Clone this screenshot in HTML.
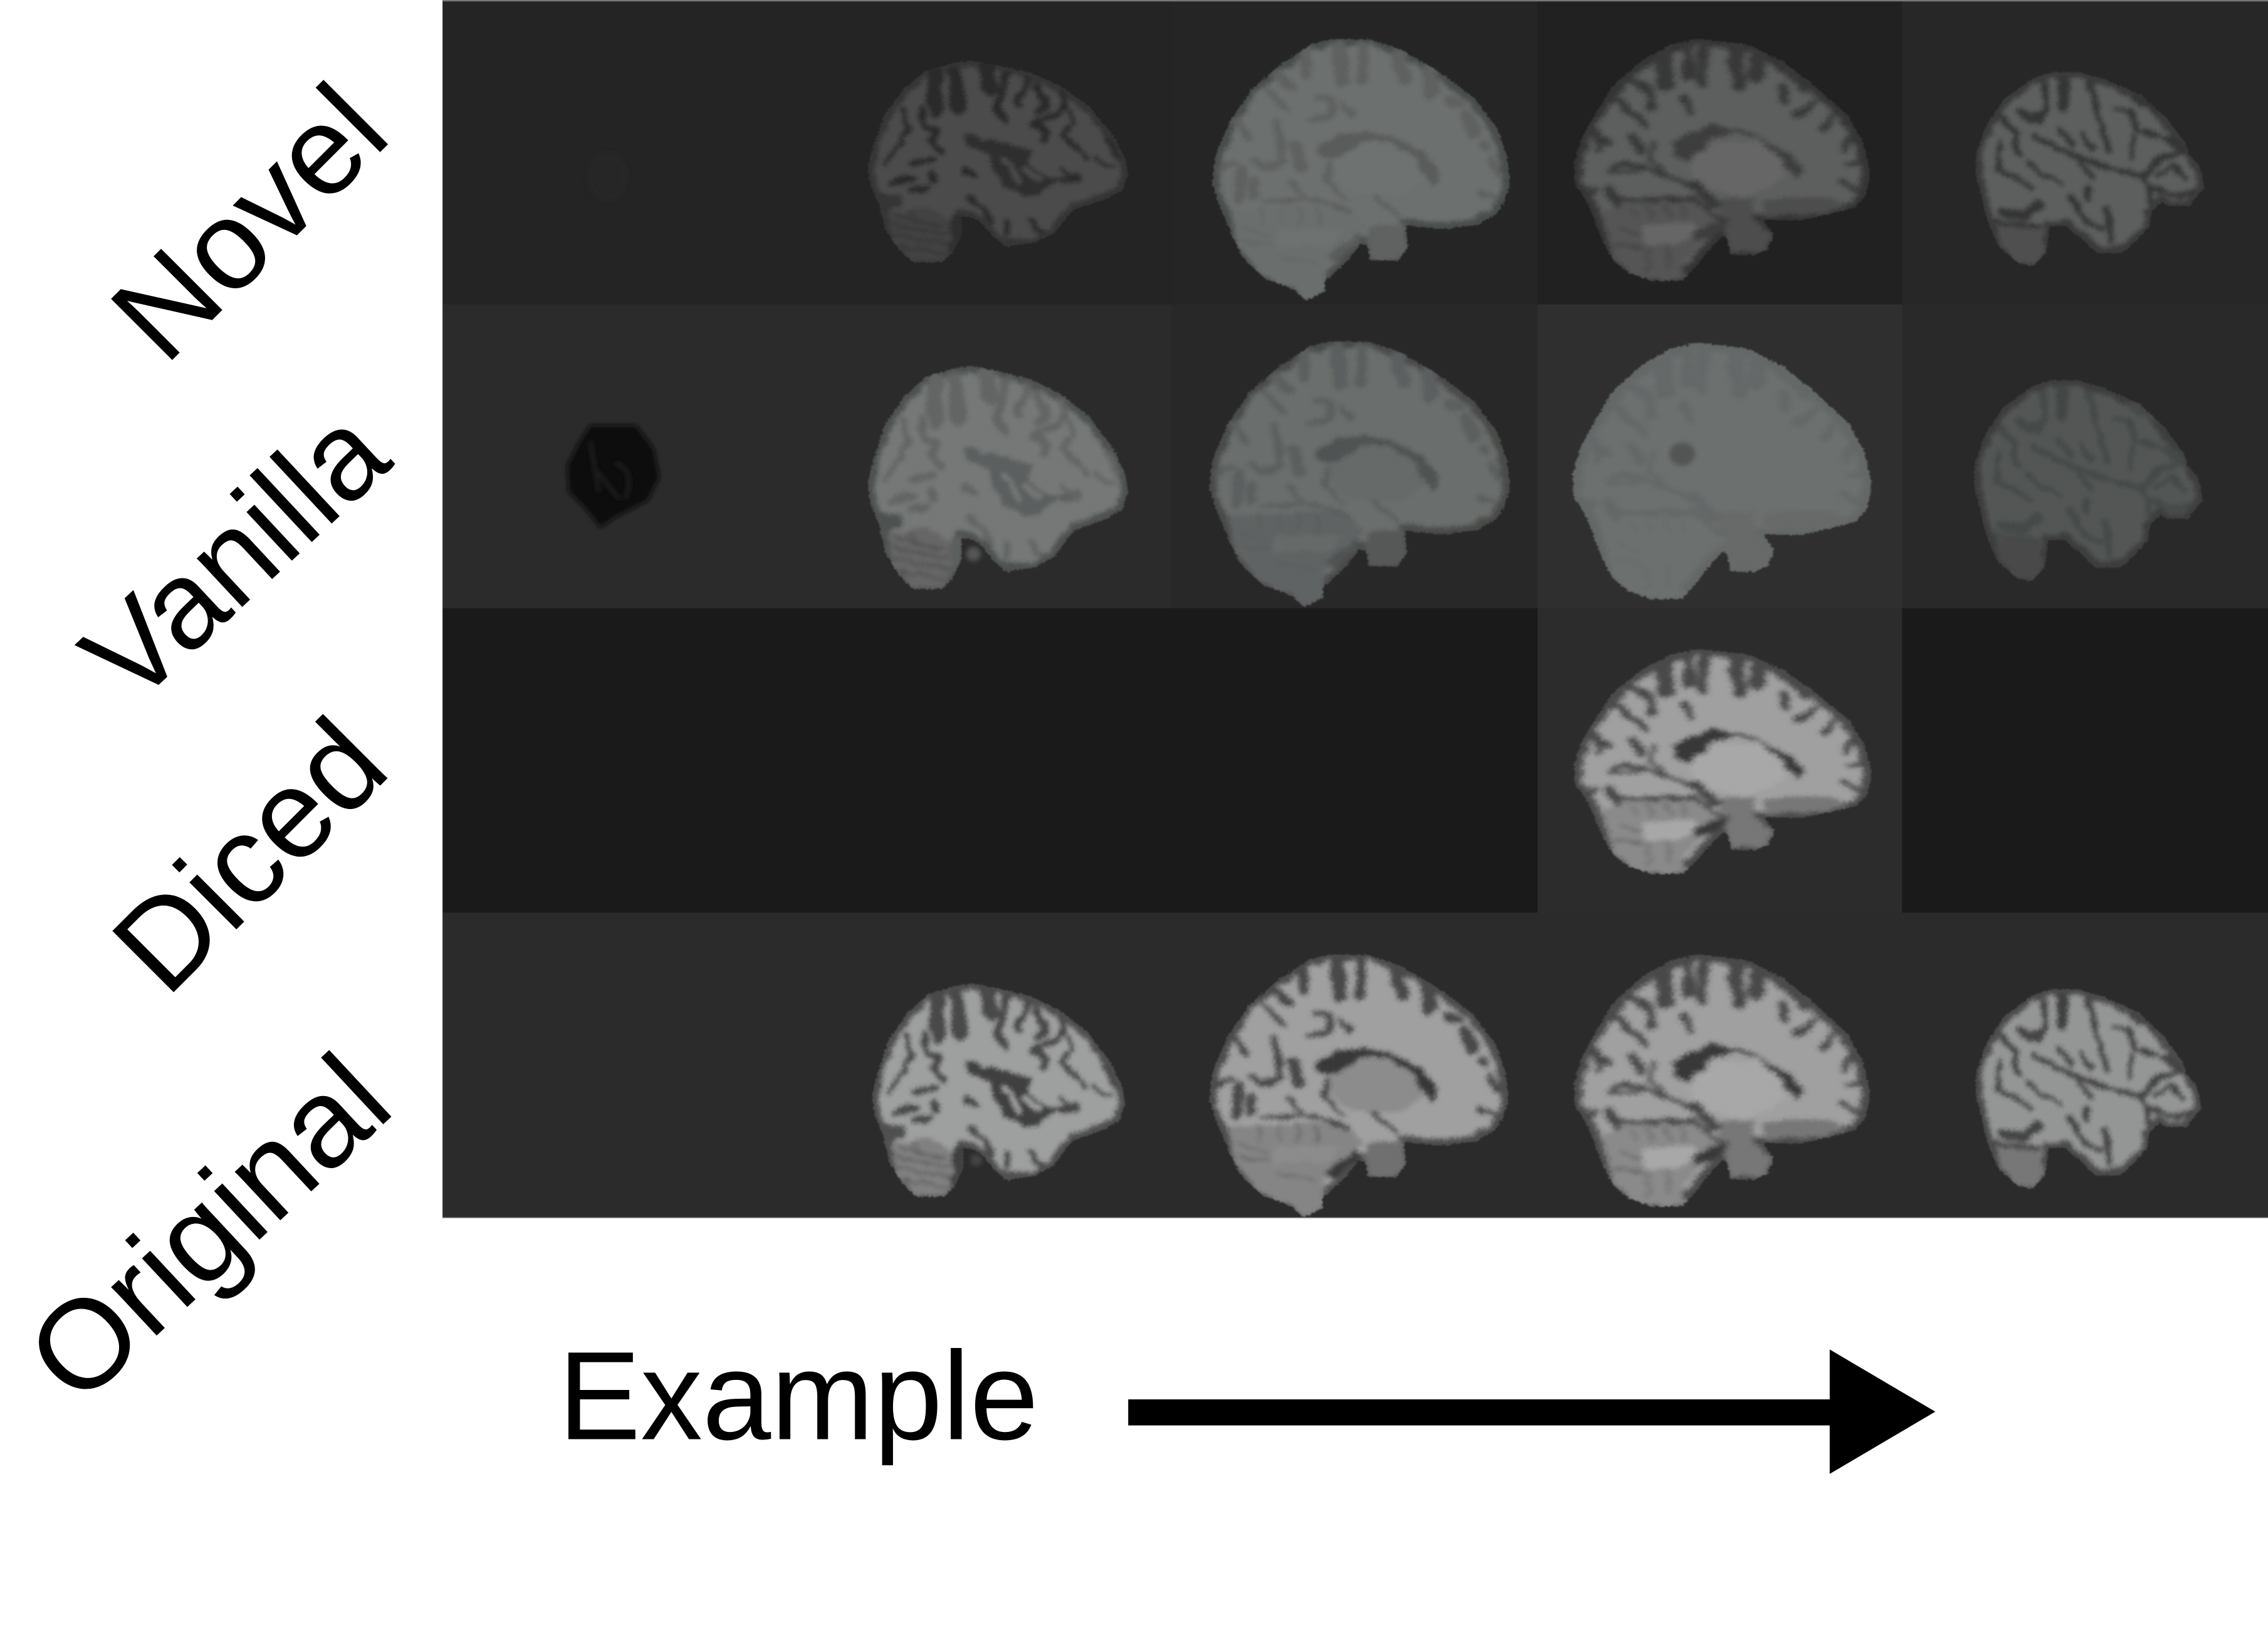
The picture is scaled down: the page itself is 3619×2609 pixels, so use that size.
<!DOCTYPE html>
<html lang="en">
<head>
<meta charset="utf-8">
<title>Brain MRI generation examples</title>
<style>
html,body{margin:0;padding:0;background:#fff;width:3619px;height:2609px;overflow:hidden}
svg{display:block}
.gm{fill:var(--gm)}
.wm{fill:var(--wm);stroke:var(--gm);stroke-width:64}
.s{fill:none;stroke:var(--s);stroke-linecap:round;stroke-linejoin:round}
.d{fill:var(--d)}
.ds{fill:none;stroke:var(--d);stroke-linecap:round;stroke-linejoin:round}
.th{fill:var(--th)}
.th2{fill:var(--th2)}
.cb{fill:var(--cb)}
.cbl{fill:none;stroke:var(--cbl);stroke-width:13}
.lab{font-family:"Liberation Sans",sans-serif;font-size:87px;fill:#000}
</style>
</head>
<body>
<svg xmlns="http://www.w3.org/2000/svg" width="3619" height="2609" viewBox="0 0 1568 1130.4">
<defs>
<filter id="soft" x="-5%" y="-5%" width="110%" height="110%">
<feTurbulence type="fractalNoise" baseFrequency="0.018" numOctaves="2" seed="4" result="n"/>
<feDisplacementMap in="SourceGraphic" in2="n" scale="42" xChannelSelector="R" yChannelSelector="G" result="w"/>
<feGaussianBlur in="w" stdDeviation="10"/>
</filter>
<filter id="edge" x="-5%" y="-5%" width="110%" height="110%">
<feTurbulence type="fractalNoise" baseFrequency="0.09" numOctaves="1" seed="9" result="n"/>
<feDisplacementMap in="SourceGraphic" in2="n" scale="22" xChannelSelector="R" yChannelSelector="G" result="w"/>
<feGaussianBlur in="w" stdDeviation="3"/>
</filter>
<filter id="spot" x="-50%" y="-50%" width="200%" height="200%"><feGaussianBlur stdDeviation="1.6"/></filter>
<clipPath id="c-lat"><polygon points="570,55 700,80 860,120 1000,190 1130,290 1250,450 1300,560 1318,640 1290,730 1220,770 1060,830 1020,880 970,950 880,1000 740,1025 680,980 620,900 570,870 525,865 525,960 480,1060 430,1105 290,1105 220,1030 160,930 130,800 90,700 78,600 110,480 160,330 250,200 350,110 470,70"/></clipPath>
<clipPath id="c-lat2"><polygon points="460,115 590,115 720,155 880,225 1000,340 1090,460 1110,520 1160,580 1180,680 1110,770 1010,770 980,750 930,800 920,870 860,940 790,1000 670,1000 600,930 530,870 450,870 430,1000 370,1065 300,1050 210,970 160,860 130,740 100,620 100,520 150,370 240,240 370,145"/></clipPath>
<clipPath id="c-med"><polygon points="700,245 870,270 1000,350 1120,470 1230,600 1290,730 1315,880 1300,980 1260,1040 1130,1080 1060,1100 930,1095 965,1160 950,1230 900,1265 810,1260 800,1180 780,1175 740,1230 700,1300 640,1385 530,1385 450,1350 390,1290 350,1190 325,1100 290,1000 250,920 250,830 280,700 330,590 400,450 500,340 600,270"/></clipPath>
<clipPath id="c-med2"><polygon points="580,125 740,125 880,180 1040,290 1180,410 1280,560 1320,700 1330,830 1300,920 1270,970 1190,1020 1040,1040 890,1020 900,1130 860,1190 740,1190 730,1120 700,1110 640,1200 550,1290 550,1340 470,1385 420,1330 300,1280 200,1170 140,1020 90,880 75,820 90,680 150,520 240,370 360,250 490,150"/></clipPath>

<g id="lat" filter="url(#edge)"><g clip-path="url(#c-lat)"><g filter="url(#soft)">
<rect class="gm" x="0" y="0" width="1400" height="1200"/>
<polygon class="wm" points="570,55 700,80 860,120 1000,190 1130,290 1250,450 1300,560 1318,640 1290,730 1220,770 1060,830 1020,880 970,950 880,1000 740,1025 680,980 620,900 570,870 525,865 525,960 480,1060 430,1105 290,1105 220,1030 160,930 130,800 90,700 78,600 110,480 160,330 250,200 350,110 470,70"/>
<polygon class="cb" points="170,850 330,820 440,850 490,900 500,1000 430,1100 290,1100 200,1000"/>
<g class="cbl"><path d="M210,860 L440,920M190,910 L460,960M200,960 L470,1010M230,1020 L450,1060M280,840 L330,900"/></g>
<polygon class="d" points="480,860 530,865 525,960 480,1060 470,1000"/>
<polygon class="gm" points="130,750 240,750 240,810 170,850 150,830"/>
<polygon class="d" points="535,430 660,470 750,480 800,510 860,520 850,590 900,640 960,670 1080,640 1100,660 1060,690 960,690 900,750 830,770 720,710 670,620 650,540 550,500"/>
<g class="s"><path style="stroke:var(--wm)" stroke-width="30" d="M730,570 L800,680M830,620 L890,670"/></g>
<g class="s">
<path stroke-width="75" d="M400,120 L400,310M490,120 L510,300M640,90 L660,200"/>
<path stroke-width="42" d="M740,130 L690,300 L730,360M840,150 L790,280M880,190 L930,290 L880,320"/>
<path stroke-width="36" d="M1000,230 L1020,300 L960,340 L870,380 L930,430 L920,470M330,300 L350,400 L410,420 L370,470 L430,530"/>
<path stroke-width="28" d="M1040,330 L1060,380 L1000,440 L1120,560M260,430 L200,540 L160,590M250,300 L270,420M1160,560 L1210,600 L1250,600M1220,470 L1270,560M1000,620 L1080,680"/>
<path stroke-width="34" d="M290,590 L390,570M190,690 L250,670 L300,670M380,640 L390,680M280,730 L360,720M540,620 L590,660"/>
<path stroke-width="28" d="M560,770 L640,830 L670,900M740,890 L740,960M850,880 L900,950"/>
</g></g></g></g>

<g id="lat2" filter="url(#edge)"><g clip-path="url(#c-lat2)"><g filter="url(#soft)">
<rect class="gm" x="0" y="0" width="1400" height="1200"/>
<polygon class="wm" points="460,115 590,115 720,155 880,225 1000,340 1090,460 1110,520 1160,580 1180,680 1110,770 1010,770 980,750 930,800 920,870 860,940 790,1000 670,1000 600,930 530,870 450,870 430,1000 370,1065 300,1050 210,970 160,860 130,740 100,620 100,520 150,370 240,240 370,145"/>
<polygon class="cb" points="200,870 400,870 430,990 370,1060 300,1050 220,970"/>
<polygon class="d" points="480,130 550,130 540,230 520,320 490,300"/>
<g class="s">
<path stroke-width="36" d="M640,170 L680,330 L700,410M430,180 L430,300 L400,350M230,340 L290,420 L300,520"/>
<path stroke-width="34" d="M380,430 L490,490 L600,540 L760,590 L900,620 L970,540 L1080,500"/>
<path stroke-width="28" d="M300,300 L360,350 L400,320M760,300 L820,300 L870,400 L1000,440M850,430 L830,530M210,450 L210,600M200,590 L290,630 L370,680M350,560 L420,620 L510,660M590,570 L650,620M540,720 L620,840 L700,880M720,780 L740,940M900,640 L930,750M930,680 L1060,720 L1130,700M960,620 L1040,570 L1090,640M200,850 L400,870"/>
<path stroke-width="46" d="M630,690 L630,730M220,800 L330,820 L400,760M850,240 L940,290M1000,440 L1060,470"/>
<path stroke-width="30" d="M500,400 L560,470M600,420 L650,490M710,430 L730,510"/>
</g></g></g></g>

<g id="med" filter="url(#edge)"><g clip-path="url(#c-med)"><g filter="url(#soft)">
<rect class="gm" x="0" y="0" width="1500" height="1500"/>
<polygon class="wm" points="700,245 870,270 1000,350 1120,470 1230,600 1290,730 1315,880 1300,980 1260,1040 1130,1080 1060,1100 930,1095 965,1160 950,1230 900,1265 810,1260 800,1180 780,1175 740,1230 700,1300 640,1385 530,1385 450,1350 390,1290 350,1190 325,1100 290,1000 250,920 250,830 280,700 330,590 400,450 500,340 600,270"/>
<ellipse class="th" cx="840" cy="850" rx="172" ry="125"/>
<polygon class="th2" points="770,1000 900,990 900,1100 960,1170 930,1250 810,1250 790,1150 770,1060"/>
<polygon class="th2" points="920,1010 1080,980 1200,1000 1220,1040 1130,1070 940,1085"/>
<polygon class="cb" points="350,1060 440,1000 660,1000 790,1100 700,1200 650,1290 640,1385 530,1385 450,1350 390,1290"/>
<polygon class="th" points="490,1120 680,1110 690,1160 620,1210 500,1210"/>
<g class="cbl"><path d="M460,1030 L470,1100M520,1020 L530,1090M580,1020 L590,1090M640,1020 L640,1090M400,1210 L500,1230M520,1230 L510,1340M580,1230 L590,1320M420,1130 L490,1170"/></g>
<polygon class="d" points="595,740 650,690 740,650 850,670 950,730 1040,800 1075,860 1050,910 1020,880 990,810 920,720 830,690 740,700 720,770 660,825 610,790"/>
<path class="ds" stroke-width="50" d="M700,1170 L770,1130"/>
<g class="s">
<path stroke-width="62" d="M570,290 L580,460M820,270 L845,460M910,290 L905,420"/>
<path stroke-width="42" d="M660,270 L665,420M720,270 L705,450M450,440 L520,480 L530,560"/>
<path stroke-width="34" d="M400,520 L510,650M1020,400 L1080,490M1110,540 L1060,600M1180,610 L1150,670M1240,700 L1220,770M330,680 L340,770M300,680 L380,740"/>
<path stroke-width="36" d="M1000,470 L1010,540M650,520 L670,590M460,710 L490,770"/>
<path stroke-width="22" d="M380,870 L520,860 L610,910 L680,950M390,850 L430,830 L500,840M540,730 L530,820 L590,890M420,1000 L680,1000 L790,1100M320,950 L290,990M1230,830 L1280,830M1210,910 L1270,960"/>
<path stroke-width="44" d="M680,930 L750,1020M370,950 L400,1010"/>
</g></g></g></g>

<g id="med2" filter="url(#edge)"><g clip-path="url(#c-med2)"><g filter="url(#soft)">
<rect class="gm" x="0" y="0" width="1500" height="1500"/>
<polygon class="wm" points="580,125 740,125 880,180 1040,290 1180,410 1280,560 1320,700 1330,830 1300,920 1270,970 1190,1020 1040,1040 890,1020 900,1130 860,1190 740,1190 730,1120 700,1110 640,1200 550,1290 550,1340 470,1385 420,1330 300,1280 200,1170 140,1020 90,880 75,820 90,680 150,520 240,370 360,250 490,150"/>
<ellipse class="th" cx="780" cy="750" rx="200" ry="135"/>
<polygon class="th2" points="740,1020 890,1020 900,1130 860,1190 740,1190 730,1120"/>
<polygon class="cb" points="150,950 620,930 720,1020 640,1120 560,1200 550,1340 470,1385 420,1330 280,1260 190,1130"/>
<polygon class="th" points="350,1040 630,1040 560,1120 340,1120"/>
<g class="cbl"><path d="M280,940 L290,1020M360,930 L370,1020M440,930 L450,1020M520,930 L530,1020M200,1030 L330,1080M210,1100 L330,1110M350,1180 L520,1200"/></g>
<polygon class="d" points="520,640 600,590 730,560 840,590 950,660 1020,730 1030,790 1000,840 975,790 930,700 830,620 710,620 610,690 570,715 530,680"/>
<polygon class="d" points="560,1170 690,1060 710,1100 590,1200"/>
<g class="s">
<path stroke-width="62" d="M615,160 L620,330M860,190 L880,320M990,260 L1000,380M1150,500 L1180,580"/>
<path stroke-width="46" d="M470,170 L470,300M710,160 L710,320M340,300 L410,350M200,750 L190,900M250,810 L250,880M1120,440 L1080,420"/>
<path stroke-width="32" d="M310,370 L380,460M520,400 L570,420 L590,490 L490,520M630,440 L660,490M340,520 L370,640 L370,720 L290,750 L250,700M1210,870 L1270,890M1220,630 L1240,650M1250,700 L1280,770M180,520 L230,600M110,750 L170,720"/>
<path stroke-width="50" d="M420,640 L450,740"/>
<path stroke-width="22" d="M570,730 L560,800 L640,900M300,900 L520,900 L660,960M400,810 L470,880M760,880 L850,960"/>
</g></g></g></g>
</defs>

<g>
<rect x="306" y="0" width="1262" height="842" fill="#2a2a2a"/>
<g>
<rect x="306" y="0" width="504" height="210.5" fill="#242424"/>
<rect x="810" y="0" width="253" height="210.5" fill="#252525"/>
<rect x="1063" y="0" width="252" height="210.5" fill="#212121"/>
<rect x="1315" y="0" width="253" height="210.5" fill="#272727"/>
</g>
<g>
<rect x="306" y="210.5" width="504" height="210" fill="#2b2b2b"/>
<rect x="810" y="210.5" width="253" height="210" fill="#282828"/>
<rect x="1063" y="210.5" width="252" height="210" fill="#2f2f2f"/>
<rect x="1315" y="210.5" width="253" height="210" fill="#292929"/>
</g>
<g>
<rect x="306" y="420.5" width="757" height="210.5" fill="#1a1a1a"/>
<rect x="1063" y="420.5" width="252" height="210.5" fill="#2c2c2c"/>
<rect x="1315" y="420.5" width="253" height="210.5" fill="#1a1a1a"/>
</g>
<rect x="306" y="631" width="1262" height="211" fill="#2b2b2b"/>
<rect x="306" y="0" width="1262" height="1" fill="#777"/>
<rect x="306" y="841.5" width="1262" height="0.7" fill="#777"/>
</g>

<g>
<ellipse cx="420" cy="122" rx="14" ry="17" fill="#272727" filter="url(#spot)"/>
<g transform="translate(600,42) scale(.1452,.1327) translate(-78,-55)" style="--gm:#343434;--wm:#4c4c4c;--s:#2c2c2c;--d:#2e2e2e;--th:#4a4a4a;--th2:#444;--cb:#434343;--cbl:#363636"><use href="#lat"/></g>
<g transform="translate(838,27) scale(.1641,.1437) translate(-75,-125)" style="--gm:#4a4d4c;--wm:#6c706e;--s:#5e6160;--d:#5a5c5b;--th:#6e7270;--th2:#5f6261;--cb:#6b6e6d;--cbl:#626564"><use href="#med2"/></g>
<g transform="translate(1088,27) scale(.1921,.1467) translate(-248,-245)" style="--gm:#363636;--wm:#5c5e5d;--s:#383838;--d:#3c3c3c;--th:#666;--th2:#4d4d4d;--cb:#555;--cbl:#444"><use href="#med"/></g>
<g transform="translate(1366,50) scale(.1463,.1411) translate(-100,-115)" style="--gm:#3a3a3a;--wm:#5c5e5d;--s:#343434;--d:#343434;--th:#5c5e5d;--th2:#4d4d4d;--cb:#505050;--cbl:#3e3e3e"><use href="#lat2"/></g>
</g>

<g>
<polygon points="408,294 440,294 452,310 456,330 448,346 425,358 415,365 405,352 393,340 392,322 400,306" fill="#111" filter="url(#spot)"/>
<path d="M408,305 L414,340 M425,320 Q440,325 432,345 M412,325 L428,345" stroke="#1d1d1d" stroke-width="3" fill="none" filter="url(#spot)"/>
<g transform="translate(600,253) scale(.1452,.1469) translate(-78,-55)" style="--gm:#4e5150;--wm:#747876;--s:#626564;--d:#5c5f5e;--th:#727674;--th2:#606362;--cb:#666;--cbl:#505050"><use href="#lat"/></g>
<ellipse cx="673" cy="383" rx="5" ry="5" fill="#555" filter="url(#spot)"/>
<g transform="translate(836,236) scale(.1657,.146) translate(-75,-125)" style="--gm:#484b4a;--wm:#6a6e6c;--s:#5c5f5e;--d:#505352;--th:#666a68;--th2:#565958;--cb:#616463;--cbl:#5a5d5c"><use href="#med2"/></g>
<g transform="translate(1087,237) scale(.194,.1555) translate(-248,-245)" style="--gm:#646766;--wm:#6c6f6e;--s:#656867;--d:#6c6f6e;--th:#6c6f6e;--th2:#676a69;--cb:#6c6f6e;--cbl:#6a6d6c"><use href="#med"/></g>
<ellipse cx="1163" cy="314" rx="9" ry="8" fill="#525554" filter="url(#spot)"/>
<g transform="translate(1365,263) scale(.1463,.1463) translate(-100,-115)" style="--gm:#3c3e3d;--wm:#535655;--s:#454847;--d:#434645;--th:#535655;--th2:#4a4c4b;--cb:#484a49;--cbl:#404241"><use href="#lat2"/></g>
</g>

<g>
<g transform="translate(1088,449) scale(.1931,.1362) translate(-248,-245)" style="--gm:#4c4c4c;--wm:#a0a0a0;--s:#484848;--d:#383838;--th:#a8a8a8;--th2:#777;--cb:#8a8a8a;--cbl:#6a6a6a"><use href="#med"/></g>
</g>

<g>
<g transform="translate(603,680) scale(.1411,.1403) translate(-78,-55)" style="--gm:#505050;--wm:#9e9f9f;--s:#484848;--d:#404040;--th:#9a9c9b;--th2:#777;--cb:#808080;--cbl:#5e5e5e"><use href="#lat"/></g>
<ellipse cx="675" cy="802" rx="4" ry="4" fill="#444" filter="url(#spot)"/>
<g transform="translate(836,660) scale(.1649,.1444) translate(-75,-125)" style="--gm:#4e4e4e;--wm:#a0a0a0;--s:#484848;--d:#383838;--th:#8c8c8c;--th2:#707070;--cb:#858585;--cbl:#686868"><use href="#med2"/></g>
<g transform="translate(1088,660) scale(.1921,.1528) translate(-248,-245)" style="--gm:#4c4c4c;--wm:#a0a0a0;--s:#484848;--d:#383838;--th:#a8a8a8;--th2:#777;--cb:#8a8a8a;--cbl:#6a6a6a"><use href="#med"/></g>
<g transform="translate(1366,684) scale(.1444,.1453) translate(-100,-115)" style="--gm:#4c4c4c;--wm:#949695;--s:#454545;--d:#404040;--th:#909291;--th2:#707070;--cb:#777;--cbl:#555"><use href="#lat2"/></g>
</g>

<text class="lab" transform="translate(114,254) rotate(-45)" textLength="224" lengthAdjust="spacingAndGlyphs">Novel</text>
<text class="lab" transform="translate(92,490) rotate(-43)" textLength="248" lengthAdjust="spacingAndGlyphs">Vanilla</text>
<text class="lab" transform="translate(115,691) rotate(-45)" textLength="222" lengthAdjust="spacingAndGlyphs">Diced</text>
<text class="lab" transform="translate(54,974) rotate(-43)" textLength="302" lengthAdjust="spacingAndGlyphs">Original</text>
<text class="lab" x="386" y="995" textLength="332" lengthAdjust="spacingAndGlyphs">Example</text>
<g>
<rect x="780" y="967.5" width="486" height="18" fill="#000"/>
<polygon points="1265,933 1338,976 1265,1019" fill="#000"/>
</g>
</svg>
</body>
</html>
